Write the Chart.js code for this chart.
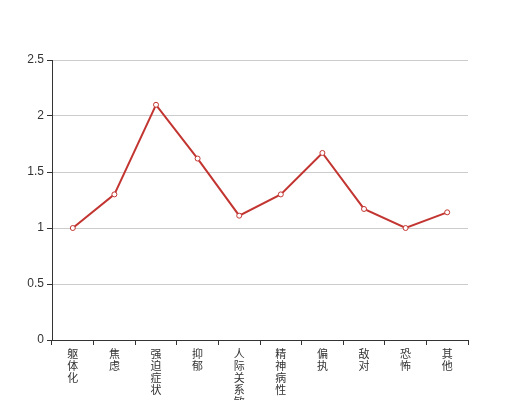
<!DOCTYPE html>
<html>
<head>
<meta charset="utf-8">
<script src="https://cdn.jsdelivr.net/npm/chart.js@4/dist/chart.umd.min.js"></script>
<style>
html,body{margin:0;padding:0;background:#fff;}
#wrap{width:520px;height:400px;position:relative;}
</style>
</head>
<body>
<div id="wrap"><canvas id="c" width="520" height="400"></canvas></div>
<script>
const categories = ['躯体化','焦虑','强迫症状','抑郁','人际关系敏感','精神病性','偏执','敌对','恐怖','其他'];
const values = [1.0, 1.30, 2.10, 1.62, 1.11, 1.30, 1.67, 1.17, 1.00, 1.14];
const yTicks = [0, 0.5, 1, 1.5, 2, 2.5];

const labels = categories.map(s => s.split(''));
const cjkFont = {family: '"Noto Sans CJK SC", "Noto Sans", sans-serif', size: 11, lineHeight: '12px'};
const numFont = {family: '"Liberation Sans", Arial, sans-serif', size: 12};

new Chart(document.getElementById('c'), {
  type: 'line',
  data: {
    labels: labels,
    datasets: [{
      data: values,
      borderColor: '#c23531',
      borderWidth: 2,
      backgroundColor: '#fff',
      pointBackgroundColor: '#fff',
      pointBorderColor: '#c23531',
      pointBorderWidth: 1,
      pointRadius: 2.5,
      tension: 0,
      fill: false
    }]
  },
  options: {
    responsive: false,
    animation: false,
    layout: {padding: {top: 60, right: 52, left: 0, bottom: 0}},
    plugins: {legend: {display: false}, tooltip: {enabled: false}},
    scales: {
      x: {
        type: 'category',
        offset: true,
        grid: {offset: true, drawOnChartArea: false, drawTicks: true, tickLength: 5, tickColor: '#333'},
        border: {color: '#333', width: 1},
        ticks: {color: '#333', font: cjkFont, padding: 3, maxRotation: 0, autoSkip: false},
        afterFit: s => { s.height = 60; }
      },
      y: {
        min: 0, max: 2.5,
        afterBuildTicks: s => { s.ticks = yTicks.map(v => ({value: v})); },
        grid: {color: '#ccc', tickColor: '#333', tickLength: 5, drawTicks: true},
        border: {color: '#333', width: 1},
        ticks: {color: '#333', font: numFont, padding: 3, callback: v => String(v)},
        afterFit: s => { s.width = 52; }
      }
    }
  }
});
</script>
</body>
</html>
